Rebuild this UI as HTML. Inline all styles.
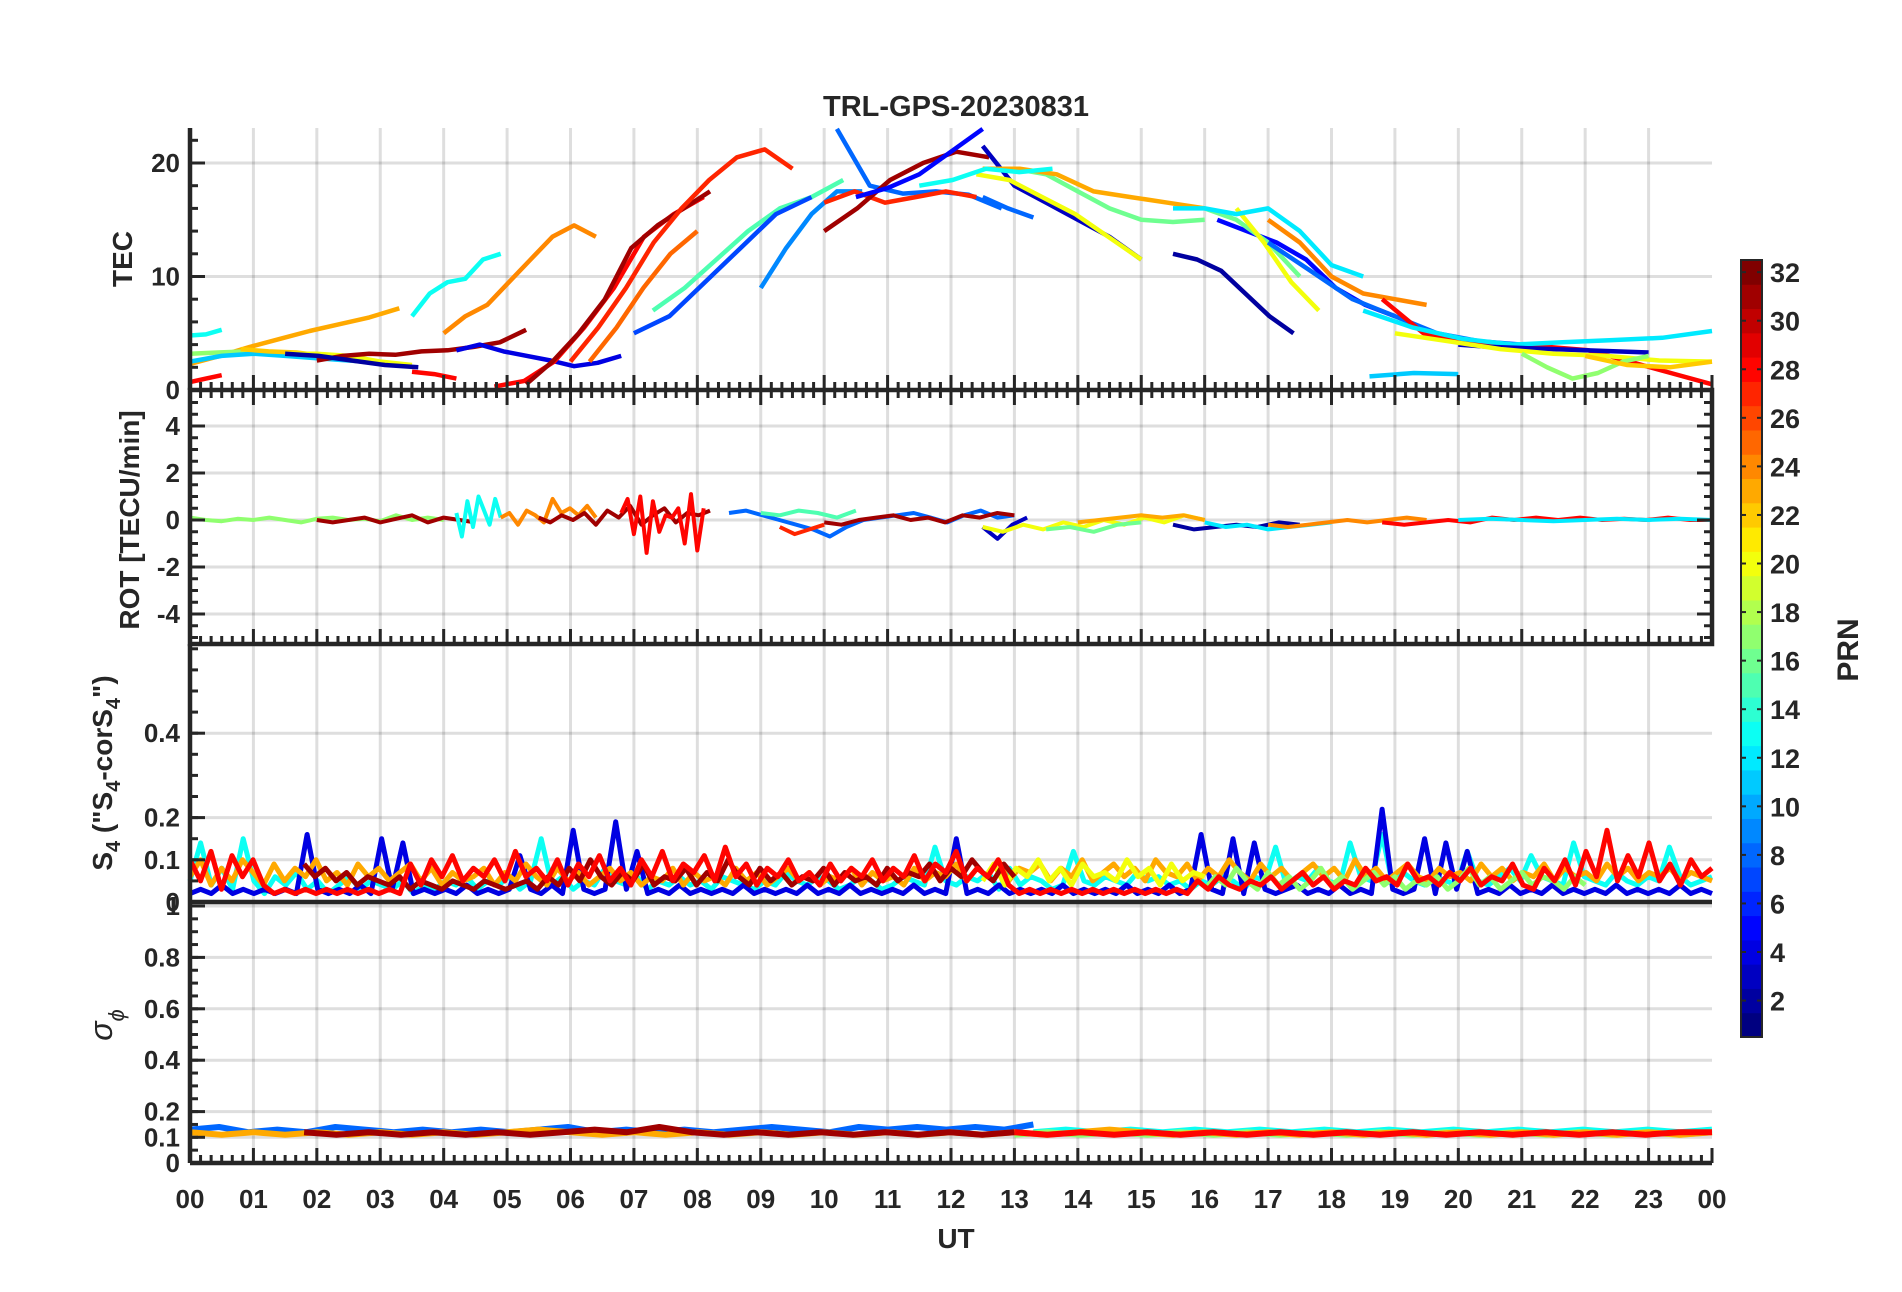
<!DOCTYPE html>
<html><head><meta charset="utf-8"><style>
html,body{margin:0;padding:0;background:#fff}
svg{display:block}
text{font-family:"Liberation Sans",Arial,sans-serif;font-weight:bold;fill:#262626}
</style></head><body>
<svg id="chart" width="1902" height="1292" viewBox="0 0 1902 1292" xmlns="http://www.w3.org/2000/svg">
<text x="956" y="116" font-size="29" text-anchor="middle">TRL-GPS-20230831</text>
<g id="grid"></g><g id="series"></g><g id="axes"></g><g id="cbar"></g>
</svg>
<script>
// ---------- data ----------
const hourLabels = ["00","01","02","03","04","05","06","07","08","09","10","11","12","13","14","15","16","17","18","19","20","21","22","23","00"];
const tecTicks = [0,10,20];
const rotTicks = [-4,-2,0,2,4];
const s4Ticks = [0,0.1,0.2,0.4];
const sigTicks = [0,0.1,0.2,0.4,0.6,0.8,1];
const cbarTicks = [2,4,6,8,10,12,14,16,18,20,22,24,26,28,30,32];
// TEC segments: [prn, startHour, endHour, values evenly spaced]
const tecSegs = [
 [13,0,0.5,[4.8,4.9,5.3]],
 [23,0,3.3,[2.3,3.0,3.8,4.5,5.2,5.8,6.4,7.2]],
 [28,0,0.5,[0.7,1.0,1.3]],
 [17,0,2.2,[3.2,3.3,3.4,3.3,3.1,2.9]],
 [11,0,3,[2.5,3.0,3.2,3.0,2.8,2.6,2.4]],
 [22,0.8,3,[3.6,3.4,3.3,3.0,2.6,2.3]],
 [20,1.5,3.5,[3.2,3.2,3.0,2.5,2.2]],
 [31,2,5.3,[2.6,3.0,3.2,3.1,3.4,3.5,3.8,4.2,5.3]],
 [2,1.5,3.6,[3.2,3.0,2.6,2.2,2.0]],
 [13,3.5,4.9,[6.5,8.5,9.5,9.8,11.5,12.0]],
 [24,4,6.4,[5.0,6.5,7.5,9.5,11.5,13.5,14.5,13.5]],
 [4,4.2,6.8,[3.5,4.0,3.4,3.0,2.6,2.1,2.4,3.0]],
 [28,3.5,4.2,[1.6,1.4,1.0]],
 [28,4.8,8.1,[0.3,0.8,2.5,5.5,9.0,13.5,15.5,17.0]],
 [31,5.3,8.2,[0.5,2.5,5.0,8.0,12.5,14.5,16.0,17.5]],
 [27,6,9.5,[2.5,5.5,9.0,13.0,16.0,18.5,20.5,21.2,19.5]],
 [25,6.3,8,[2.5,5.5,9.0,12.0,14.0]],
 [15,7.3,10.3,[7.0,9.0,11.5,14.0,16.0,17.0,18.5]],
 [7,7,9.8,[5.0,6.5,9.5,12.5,15.5,17.0]],
 [9,9,10.6,[9.0,12.5,15.5,17.5,17.5]],
 [8,10.2,12.8,[23.0,18.0,17.3,17.5,17.2,16.0]],
 [27,10,12.4,[16.5,17.5,16.5,17.0,17.5,17.0]],
 [31,10,12.6,[14.0,16.0,18.5,20.0,21.0,20.5]],
 [5,10.5,12.5,[17.0,17.8,19.0,21.0,23.0]],
 [3,12.5,15,[21.5,18.0,16.5,15.0,13.5,11.5]],
 [20,12.4,15,[19.0,18.5,17.0,15.5,13.5,11.5]],
 [16,13,16,[19.5,19.0,17.5,16.0,15.0,14.8,15.0]],
 [23,12.5,16,[19.5,19.5,19.0,17.5,17.0,16.5,16.0]],
 [13,11.5,13.6,[18.0,18.5,19.5,19.2,19.5]],
 [8,12.5,13.3,[17.0,16.0,15.2]],
 [2,15.5,17.4,[12.0,11.5,10.5,8.5,6.5,5.0]],
 [5,16.2,19,[15.0,14.0,13.0,11.5,9.0,7.5,6.5]],
 [16,16,17.5,[16.0,15.0,13.0,10.0]],
 [20,16.5,17.8,[16.0,13.0,9.5,7.0]],
 [12,15.5,18.5,[16.0,16.0,15.5,16.0,14.0,11.0,10.0]],
 [24,17,19.5,[15.0,13.0,10.0,8.5,8.0,7.5]],
 [8,17,21,[13.0,10.5,8.0,6.5,5.0,4.3,4.0]],
 [28,18.8,24,[8.0,5.0,4.3,4.0,3.8,3.5,2.5,1.5,0.5]],
 [12,18.5,24,[7.0,5.5,4.5,4.0,4.2,4.4,4.6,5.2]],
 [3,20,23,[4.0,3.8,3.7,3.6,3.5,3.4,3.3]],
 [20,19,24,[5.0,4.3,3.6,3.2,3.0,2.6,2.5]],
 [17,21,23,[3.2,2.0,1.0,1.5,2.5,3.0]],
 [11,18.6,20,[1.2,1.5,1.4]],
 [22,22,24,[3.0,2.2,2.0,2.5]]
];
// ROT segments: [prn, startHour, endHour, values]
const rotSegs = [
 [17,0,4,[0.1,0,-0.05,0.05,0,0.1,0,-0.1,0.05,0.1,0,0.05,-0.05,0.2,0,0.1,0]],
 [31,2,4.5,[0,-0.1,0,0.1,-0.1,0.05,0.2,-0.1,0.1,0,-0.1]],
 [13,4.2,4.9,[0.3,-0.7,0.8,-0.3,1.0,0.4,-0.2,0.9,0.1]],
 [24,4.9,6.4,[0.1,0.3,-0.2,0.4,0.2,-0.1,0.9,0.3,0.5,0.2,0.6,0.1]],
 [31,5.5,8.2,[0.1,-0.1,0.2,0,0.3,-0.2,0.4,0.1,0.6,-0.2,0.2,0.5,-0.1,0.3,0.2,0.4]],
 [28,6.8,8.1,[0.3,0.9,-0.6,1.0,-1.4,0.8,-0.5,0.2,0.1,0.5,-1.0,1.1,-1.3,0.5]],
 [8,8.5,13,[0.3,0.4,0.2,0,-0.2,-0.4,-0.7,-0.3,0,0.1,0.2,0.3,0.1,-0.1,0.2,0.4,0.1,0.2]],
 [27,9.3,10,[-0.3,-0.6,-0.4,-0.2]],
 [15,9,10.5,[0.3,0.2,0.4,0.3,0.1,0.4]],
 [31,10,13,[-0.1,-0.2,0,0.1,0.2,0,0.1,-0.1,0.2,0.1,0.3,0.2]],
 [3,12.5,13.2,[-0.3,-0.8,-0.2,0.1]],
 [20,12.5,16,[-0.3,-0.5,-0.2,-0.4,-0.1,-0.3,0,-0.2,0.1,-0.1,0.2,0]],
 [16,13.5,15,[-0.4,-0.3,-0.5,-0.2,-0.1]],
 [23,14,16,[-0.1,0,0.1,0.2,0.1,0.2,0]],
 [2,15.5,17.5,[-0.2,-0.4,-0.3,-0.2,-0.3,-0.1,-0.2]],
 [12,16,18,[-0.1,-0.3,-0.2,-0.4,-0.3,-0.2,-0.1]],
 [24,17,19.5,[-0.2,-0.3,-0.2,-0.1,0,-0.1,0,0.1,0]],
 [28,18.8,24,[-0.1,-0.2,-0.1,0,-0.1,0.1,0,0.1,0,0.1,0,0.05,0,0.1,0,0]],
 [12,20,24,[0,0.05,0,-0.05,0,0.05,0,0.05,0]]
];
// S4 series: [prn, startHour, endHour, values]
const s4Segs = [
 [13,0,24,[0.05,0.14,0.04,0.08,0.03,0.15,0.05,0.02,0.06,0.04,0.07,0.03,0.05,0.02,0.04,0.06,0.03,0.05,0.04,0.03,0.05,0.02,0.04,0.03,0.05,0.04,0.06,0.03,0.05,0.04,0.06,0.03,0.05,0.15,0.04,0.06,0.03,0.05,0.04,0.08,0.05,0.04,0.06,0.03,0.05,0.04,0.06,0.04,0.05,0.03,0.06,0.05,0.04,0.03,0.05,0.04,0.07,0.05,0.04,0.06,0.05,0.03,0.04,0.06,0.05,0.03,0.04,0.06,0.05,0.04,0.13,0.05,0.04,0.06,0.05,0.07,0.03,0.08,0.04,0.06,0.05,0.03,0.04,0.12,0.05,0.04,0.06,0.05,0.04,0.07,0.05,0.06,0.04,0.05,0.03,0.05,0.04,0.06,0.05,0.03,0.06,0.05,0.13,0.04,0.06,0.05,0.08,0.05,0.04,0.14,0.06,0.05,0.16,0.04,0.07,0.05,0.04,0.06,0.05,0.04,0.12,0.05,0.04,0.06,0.08,0.05,0.11,0.06,0.05,0.04,0.14,0.06,0.05,0.04,0.07,0.05,0.04,0.06,0.05,0.13,0.06,0.04,0.05,0.06]],
 [4,0,24,[0.02,0.03,0.02,0.04,0.02,0.03,0.02,0.03,0.02,0.03,0.02,0.16,0.03,0.02,0.03,0.02,0.04,0.02,0.15,0.03,0.14,0.02,0.03,0.02,0.03,0.02,0.04,0.02,0.03,0.02,0.03,0.11,0.03,0.02,0.04,0.02,0.17,0.03,0.02,0.03,0.19,0.03,0.12,0.02,0.03,0.02,0.04,0.02,0.03,0.02,0.03,0.02,0.04,0.02,0.03,0.02,0.03,0.02,0.04,0.02,0.03,0.02,0.04,0.02,0.03,0.02,0.03,0.02,0.04,0.02,0.03,0.02,0.15,0.02,0.03,0.02,0.04,0.02,0.03,0.02,0.03,0.02,0.04,0.02,0.03,0.02,0.03,0.02,0.04,0.02,0.03,0.02,0.04,0.02,0.03,0.16,0.03,0.02,0.15,0.02,0.14,0.03,0.02,0.03,0.04,0.02,0.03,0.02,0.04,0.02,0.03,0.02,0.22,0.03,0.02,0.03,0.15,0.02,0.14,0.03,0.12,0.02,0.03,0.02,0.04,0.02,0.03,0.02,0.04,0.02,0.03,0.02,0.03,0.02,0.04,0.02,0.03,0.02,0.03,0.02,0.04,0.02,0.03,0.02]],
 [23,0,24,[0.06,0.1,0.04,0.08,0.05,0.1,0.07,0.04,0.09,0.05,0.08,0.06,0.1,0.05,0.07,0.04,0.09,0.06,0.08,0.05,0.07,0.09,0.05,0.08,0.04,0.07,0.05,0.06,0.08,0.04,0.07,0.05,0.09,0.06,0.04,0.08,0.05,0.07,0.04,0.06,0.08,0.05,0.07,0.04,0.06,0.05,0.08,0.04,0.07,0.05,0.06,0.04,0.08,0.05,0.07,0.04,0.06,0.08,0.05,0.07,0.04,0.06,0.05,0.08,0.04,0.07,0.05,0.06,0.04,0.08,0.05,0.07,0.06,0.09,0.05,0.08,0.06,0.1,0.05,0.08,0.07,0.09,0.05,0.08,0.06,0.1,0.05,0.07,0.09,0.06,0.08,0.05,0.1,0.07,0.06,0.09,0.05,0.08,0.06,0.1,0.07,0.05,0.09,0.06,0.08,0.05,0.07,0.09,0.06,0.08,0.05,0.1,0.06,0.08,0.05,0.07,0.09,0.06,0.05,0.08,0.06,0.07,0.05,0.09,0.06,0.08,0.05,0.07,0.06,0.09,0.05,0.08,0.06,0.07,0.05,0.09,0.06,0.08,0.05,0.07,0.06,0.08,0.05,0.07,0.06,0.05]],
 [20,12.5,16,[0.05,0.09,0.04,0.08,0.06,0.1,0.05,0.08,0.04,0.09,0.06,0.07,0.05,0.1,0.06,0.08,0.04,0.09,0.05,0.07,0.06]],
 [17,16,22,[0.03,0.06,0.04,0.08,0.05,0.03,0.07,0.04,0.06,0.03,0.05,0.08,0.04,0.06,0.03,0.05,0.07,0.04,0.06,0.03,0.05,0.04,0.06,0.03,0.05,0.08,0.04,0.06,0.03,0.05,0.07,0.04,0.06,0.05,0.03,0.06,0.04]],
 [31,1.8,13,[0.09,0.06,0.08,0.05,0.07,0.04,0.06,0.05,0.04,0.06,0.03,0.05,0.04,0.03,0.05,0.04,0.03,0.05,0.04,0.03,0.04,0.05,0.03,0.06,0.04,0.08,0.05,0.1,0.06,0.04,0.07,0.05,0.09,0.04,0.06,0.05,0.08,0.04,0.07,0.05,0.1,0.06,0.04,0.08,0.05,0.07,0.04,0.06,0.05,0.08,0.04,0.07,0.05,0.06,0.04,0.08,0.05,0.07,0.06,0.09,0.05,0.08,0.06,0.1,0.07,0.05,0.09,0.06]],
 [28,0,24,[0.1,0.05,0.12,0.03,0.11,0.06,0.1,0.04,0.02,0.03,0.02,0.03,0.02,0.03,0.02,0.03,0.02,0.03,0.02,0.03,0.02,0.09,0.04,0.1,0.06,0.11,0.05,0.08,0.06,0.1,0.05,0.12,0.06,0.08,0.05,0.1,0.04,0.09,0.06,0.11,0.05,0.08,0.04,0.1,0.06,0.12,0.05,0.09,0.07,0.11,0.05,0.13,0.06,0.09,0.04,0.08,0.06,0.1,0.05,0.07,0.04,0.09,0.05,0.08,0.06,0.1,0.05,0.08,0.06,0.11,0.05,0.09,0.07,0.12,0.05,0.08,0.06,0.1,0.04,0.02,0.03,0.02,0.03,0.02,0.03,0.02,0.03,0.02,0.03,0.02,0.03,0.02,0.03,0.02,0.03,0.02,0.05,0.03,0.06,0.04,0.03,0.05,0.04,0.06,0.03,0.05,0.07,0.04,0.06,0.03,0.05,0.04,0.08,0.05,0.06,0.04,0.09,0.05,0.06,0.04,0.07,0.05,0.08,0.04,0.06,0.05,0.09,0.04,0.03,0.08,0.05,0.1,0.04,0.12,0.06,0.17,0.05,0.11,0.06,0.14,0.05,0.09,0.04,0.1,0.06,0.08]]
];
// sigma-phi series: [prn, startHour, endHour, values]
const sigSegs = [
 [8,0,13.3,[0.13,0.14,0.12,0.13,0.12,0.14,0.13,0.12,0.13,0.12,0.13,0.12,0.13,0.14,0.12,0.13,0.12,0.13,0.12,0.13,0.14,0.13,0.12,0.14,0.13,0.14,0.13,0.14,0.13,0.15]],
 [13,13.3,24,[0.12,0.13,0.12,0.13,0.12,0.13,0.12,0.13,0.12,0.13,0.12,0.13,0.12,0.13,0.12,0.13,0.12,0.13,0.12,0.13,0.12,0.13]],
 [17,13,24,[0.11,0.12,0.11,0.12,0.11,0.12,0.11,0.12,0.11,0.12,0.11,0.12,0.11,0.12,0.11,0.12,0.11,0.12,0.11,0.12,0.11,0.12]],
 [23,0,24,[0.12,0.11,0.12,0.11,0.12,0.11,0.12,0.11,0.12,0.11,0.12,0.13,0.12,0.11,0.12,0.11,0.12,0.11,0.12,0.11,0.12,0.11,0.12,0.11,0.12,0.11,0.12,0.11,0.12,0.13,0.12,0.11,0.12,0.11,0.12,0.11,0.12,0.11,0.12,0.11,0.12,0.11,0.12,0.11,0.12,0.11,0.12,0.11,0.12]],
 [31,1.8,13,[0.12,0.11,0.12,0.11,0.12,0.11,0.12,0.11,0.12,0.13,0.12,0.14,0.12,0.11,0.12,0.11,0.12,0.11,0.12,0.11,0.12,0.11,0.12]],
 [28,13,24,[0.12,0.11,0.12,0.11,0.12,0.11,0.12,0.11,0.12,0.11,0.12,0.11,0.12,0.11,0.12,0.11,0.12,0.11,0.12,0.11,0.12,0.12]]
];
// ---------- layout ----------
const NS="http://www.w3.org/2000/svg";
const X0=190, X1=1712;
const xs=h=>X0+h*(X1-X0)/24;
const panels={
 tec:{top:128,bot:390,y:v=>390-v*11.35},
 rot:{top:390,bot:644,y:v=>520-v*23.5},
 s4:{top:644,bot:902,y:v=>902-v*422},
 sig:{top:902,bot:1163,y:v=>1163-v*257}
};
function jet(p){const t=(p-1)/31;const c=v=>Math.round(255*Math.max(0,Math.min(1,v)));
 return `rgb(${c(1.5-Math.abs(4*t-3))},${c(1.5-Math.abs(4*t-2))},${c(1.5-Math.abs(4*t-1))})`;}
function mk(tag,attrs,parent){const e=document.createElementNS(NS,tag);for(const k in attrs)e.setAttribute(k,attrs[k]);parent.appendChild(e);return e;}
const G=document.getElementById('grid'),S=document.getElementById('series'),A=document.getElementById('axes'),C=document.getElementById('cbar');
const gridStyle={stroke:'#000','stroke-opacity':0.13,'stroke-width':3};
for(const k in panels){const P=panels[k];
 for(let h=1;h<24;h++){const l=mk('line',Object.assign({x1:xs(h),x2:xs(h),y1:P.top,y2:P.bot},gridStyle),G);
  
  }
 const ticks=k==='tec'?tecTicks:k==='rot'?rotTicks:k==='s4'?s4Ticks:sigTicks;
 ticks.forEach(v=>{const y=P.y(v);if(y<=P.top+1||y>=P.bot-1)return;
  const l=mk('line',Object.assign({x1:X0,x2:X1,y1:y,y2:y},gridStyle),G);
  
  });
}
function drawSegs(segs,P,name,w){
 segs.forEach(s=>{const [prn,a,b,vals]=s;const n=vals.length;
  const pts=vals.map((v,i)=>xs(a+(b-a)*i/(n-1)).toFixed(1)+','+Math.max(P.top,Math.min(P.bot,P.y(v))).toFixed(1)).join(' ');
  const pl=mk('polyline',{points:pts,fill:'none',stroke:jet(prn),'stroke-width':w,'stroke-linejoin':'round'},S);
  
  });
}
drawSegs(tecSegs,panels.tec,'tec-line',4.5);
drawSegs(rotSegs,panels.rot,'rot-line',4);
drawSegs(s4Segs,panels.s4,'s4-line',5);
drawSegs(sigSegs,panels.sig,'sigma-line',6);
const axStyle={stroke:'#262626','stroke-width':4.5,fill:'none'};
function tickLabel(x,y,str,anchor,name){const t=mk('text',{x:x,y:y,'font-size':26,'text-anchor':anchor},A);t.textContent=str;
 
 }
function xTicks(y,dir){for(let i=0;i<=144;i++){const len=i%6===0?15:8;
 mk('line',{x1:xs(i/6),x2:xs(i/6),y1:y,y2:y+dir*len,stroke:'#262626','stroke-width':3},A);}}
function yAxis(P,ticks,minorStep,lo,hi,fmt,right){
 for(let v=lo;v<=hi+1e-9;v+=minorStep){const y=P.y(v);if(y<P.top-1||y>P.bot+1)continue;
  mk('line',{x1:X0,x2:X0+8,y1:y,y2:y,stroke:'#262626','stroke-width':3},A);
  if(right)mk('line',{x1:X1,x2:X1-8,y1:y,y2:y,stroke:'#262626','stroke-width':3},A);}
 ticks.forEach(v=>{const y=P.y(v);
  mk('line',{x1:X0,x2:X0+15,y1:y,y2:y,stroke:'#262626','stroke-width':3},A);
  if(right)mk('line',{x1:X1,x2:X1-15,y1:y,y2:y,stroke:'#262626','stroke-width':3},A);
  tickLabel(X0-10,y+9,fmt(v),'end','y-tick-label');});
}
const f=v=>String(v);
mk('line',Object.assign({x1:X0,x2:X0,y1:128,y2:390},axStyle),A);
yAxis(panels.tec,tecTicks,2,0,22,f,false);
mk('rect',Object.assign({x:X0,y:390,width:X1-X0,height:254},axStyle),A);
xTicks(390,1);xTicks(390,-1);xTicks(644,-1);
yAxis(panels.rot,rotTicks,0.5,-5,5,f,true);
mk('line',Object.assign({x1:X0,x2:X0,y1:644,y2:902},axStyle),A);
mk('line',Object.assign({x1:X0,x2:X1,y1:902,y2:902},axStyle),A);
yAxis(panels.s4,s4Ticks,0.05,0,0.6,f,false);
mk('line',Object.assign({x1:X0,x2:X0,y1:902,y2:1163},axStyle),A);
mk('line',Object.assign({x1:X0,x2:X1,y1:1163,y2:1163},axStyle),A);
xTicks(1163,-1);
yAxis(panels.sig,sigTicks,0.05,0,1,f,false);
hourLabels.forEach((s,i)=>tickLabel(xs(i),1208,s,'middle','x-tick-label'));
function rotText(x,y,str,name,size){const t=mk('text',{x:x,y:y,'font-size':size||28,'text-anchor':'middle',transform:`rotate(-90 ${x} ${y})`},A);t.innerHTML=str;
 
 return t;}
rotText(132,259,'TEC','tec-axis-title');
rotText(139,520,'ROT [TECU/min]','rot-axis-title');
rotText(112,773,'S<tspan font-size="20" dy="8">4</tspan><tspan dy="-8"> ("S</tspan><tspan font-size="20" dy="8">4</tspan><tspan dy="-8">-corS</tspan><tspan font-size="20" dy="8">4</tspan><tspan dy="-8">")</tspan>','s4-axis-title');
rotText(112,1025,'<tspan font-style="italic" font-weight="normal">σ</tspan><tspan font-size="22" dy="12" font-style="italic" font-weight="normal">ϕ</tspan>','sigma-axis-title',32);
const ut=mk('text',{x:956,y:1248,'font-size':28,'text-anchor':'middle'},A);ut.textContent='UT';


const CB={x:1741,w:21,top:260,bot:1037};
const cy=v=>CB.bot-(v-0.5)/32*(CB.bot-CB.top);
for(let p=1;p<=32;p++){const r=mk('rect',{x:CB.x,y:cy(p+0.5),width:CB.w,height:cy(p-0.5)-cy(p+0.5)+0.5,fill:jet(p)},C);
 
 }
mk('rect',{x:CB.x,y:CB.top,width:CB.w,height:CB.bot-CB.top,fill:'none',stroke:'#262626','stroke-width':2},C);
cbarTicks.forEach(v=>{const y=cy(v);
 mk('line',{x1:CB.x,x2:CB.x+5,y1:y,y2:y,stroke:'#262626','stroke-width':2},C);
 mk('line',{x1:CB.x+CB.w,x2:CB.x+CB.w-5,y1:y,y2:y,stroke:'#262626','stroke-width':2},C);
 const t=mk('text',{x:CB.x+CB.w+8,y:y+10,'font-size':27},C);t.textContent=v;
 
 });
const pl=mk('text',{x:1858,y:650,'font-size':30,'text-anchor':'middle',transform:'rotate(-90 1858 650)'},C);pl.textContent='PRN';


</script>
</body></html>
